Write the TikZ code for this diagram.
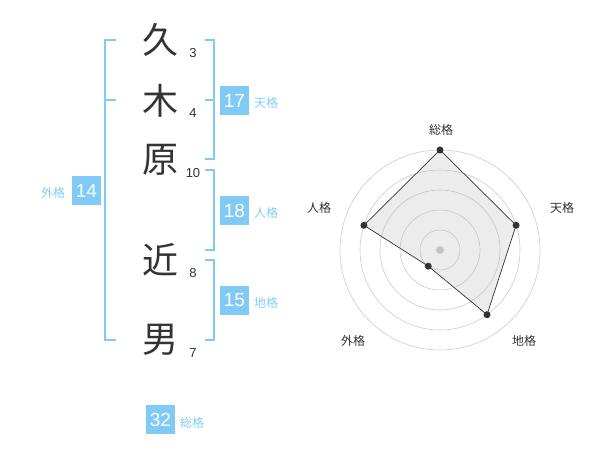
\documentclass[tikz,border=0pt]{standalone}
\usepackage{fontspec}
\setmainfont{Liberation Sans}
\newfontfamily\cjk{Noto Sans CJK JP}
\definecolor{bx}{HTML}{80CBF6}
\definecolor{lb}{HTML}{84CCF4}
\definecolor{dk}{HTML}{333333}
\definecolor{rg}{HTML}{CCCCCC}
\begin{document}
\begin{tikzpicture}[x=1pt,y=-1pt,
  kanji/.style={font=\cjk\fontsize{36}{36}\selectfont, text=dk, inner sep=0pt},
  stroke/.style={font=\fontsize{13}{13}\selectfont, text=dk, inner sep=0pt},
  numbox/.style={fill=bx, text=white, minimum size=28.5pt, inner sep=0pt, font=\fontsize{19}{19}\selectfont},
  kaku/.style={font=\cjk\fontsize{12}{12}\selectfont, text=lb, inner sep=0pt},
  brk/.style={draw=bx, line width=1.5pt},
  rlab/.style={font=\cjk\fontsize{12}{12}\selectfont, text=dk, inner sep=0pt},
  ring/.style={draw=rg, line width=0.6pt},
  pt/.style={circle, fill=dk, minimum size=7pt, inner sep=0pt}]
\useasboundingbox (0,0) rectangle (600,470);
% characters
\node[kanji] (c1) at (160,40) {久};
\node[kanji] (c2) at (160,101) {木};
\node[kanji] (c3) at (160,160) {原};
\node[kanji] (c4) at (160,260) {近};
\node[kanji] (c5) at (160,340) {男};
% stroke counts
\node[stroke] (s1) at (193,53) {3};
\node[stroke] (s2) at (193,113) {4};
\node[stroke] (s3) at (193,173) {10};
\node[stroke] (s4) at (193,273) {8};
\node[stroke] (s5) at (193,353) {7};
% brackets right
\coordinate (b1a) at (205,40); \coordinate (b1b) at (214,40);
\coordinate (b1c) at (214,159); \coordinate (b1d) at (205,159);
\coordinate (b1m) at (205,100); \coordinate (b1n) at (214,100);
\draw[brk] (b1a) -- (b1b) -- (b1c) -- (b1d);
\draw[brk] (b1m) -- (b1n);
\coordinate (b2a) at (205,170); \coordinate (b2b) at (214,170);
\coordinate (b2c) at (214,250); \coordinate (b2d) at (205,250);
\draw[brk] (b2a) -- (b2b) -- (b2c) -- (b2d);
\coordinate (b3a) at (205,260); \coordinate (b3b) at (214,260);
\coordinate (b3c) at (214,340); \coordinate (b3d) at (205,340);
\draw[brk] (b3a) -- (b3b) -- (b3c) -- (b3d);
% bracket left
\coordinate (l1a) at (116,40); \coordinate (l1b) at (105,40);
\coordinate (l1c) at (105,340); \coordinate (l1d) at (116,340);
\coordinate (l1m) at (105,100); \coordinate (l1n) at (116,100);
\draw[brk] (l1a) -- (l1b) -- (l1c) -- (l1d);
\draw[brk] (l1m) -- (l1n);
% boxes
\node[numbox] (ten) at (234.5,100.5) {17};
\node[kaku] (tenl) at (266,103) {天格};
\node[numbox] (jin) at (234.5,210.5) {18};
\node[kaku] (jinl) at (266,213) {人格};
\node[numbox] (chi) at (234.5,300.5) {15};
\node[kaku] (chil) at (266,303) {地格};
\node[numbox] (gai) at (86.5,190.5) {14};
\node[kaku] (gail) at (53,193) {外格};
\node[numbox] (sou) at (160.5,419.5) {32};
\node[kaku] (soul) at (192,423) {総格};
% radar
\coordinate (O) at (440,250);
\foreach \r in {20,40,60,80,100} \draw[ring] (O) circle[radius=\r];
\fill[rg] (O) circle[radius=4];
\path (O) ++(0,-100) coordinate (pS)
      (O) ++({80*cos(18)},{-80*sin(18)}) coordinate (pT)
      (O) ++({80*cos(54)},{80*sin(54)}) coordinate (pC)
      (O) ++({-20*cos(54)},{20*sin(54)}) coordinate (pG)
      (O) ++({-80*cos(18)},{-80*sin(18)}) coordinate (pJ);
\filldraw[fill=black!30, fill opacity=0.25, draw=dk, line width=0.7pt] (pS) -- (pT) -- (pC) -- (pG) -- (pJ) -- cycle;
\node[pt] (dS) at (pS) {};
\node[pt] (dT) at (pT) {};
\node[pt] (dC) at (pC) {};
\node[pt] (dG) at (pG) {};
\node[pt] (dJ) at (pJ) {};
\node[rlab] (rS) at (441,130) {総格};
\node[rlab] (rT) at (562,208) {天格};
\node[rlab] (rC) at (524,341) {地格};
\node[rlab] (rG) at (353,341) {外格};
\node[rlab] (rJ) at (319,208) {人格};
\end{tikzpicture}
\end{document}
